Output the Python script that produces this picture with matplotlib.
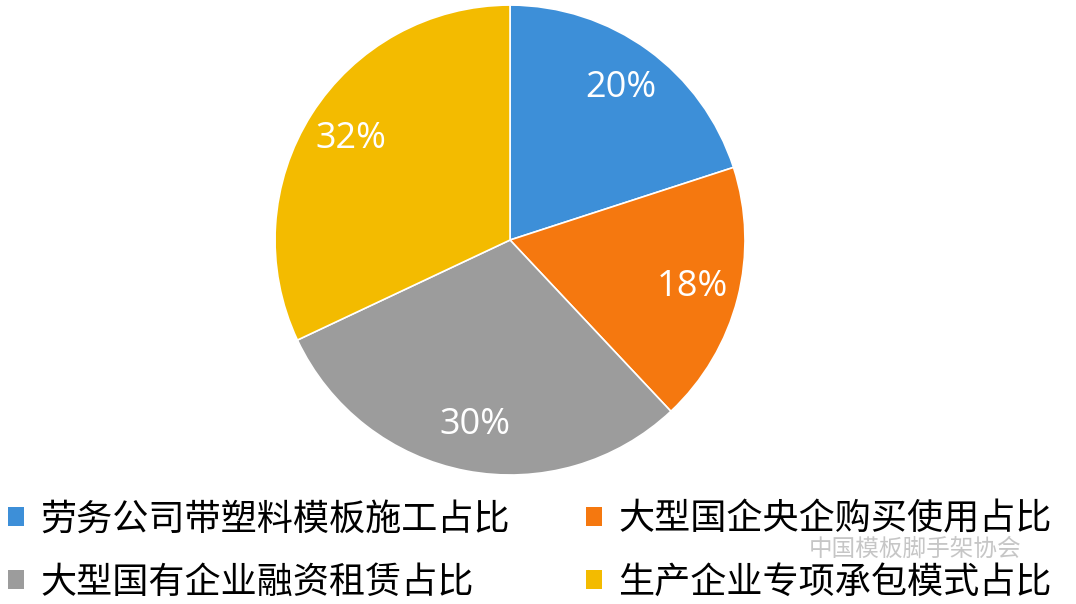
import matplotlib.pyplot as plt
from matplotlib.patches import Patch

plt.rcParams['font.family'] = ['Noto Sans CJK SC', 'DejaVu Sans']

# 数据
labels = ['劳务公司带塑料模板施工占比', '大型国企央企购买使用占比',
          '大型国有企业融资租赁占比', '生产企业专项承包模式占比']
shares = [20, 18, 30, 32]
colors = ['#3d8fd8', '#f5780f', '#9c9c9c', '#f3bb00']

fig = plt.figure(figsize=(10.76, 6.04), dpi=100)
fig.patch.set_facecolor('white')

ax = fig.add_axes([0.2556, 0.2136, 0.4368, 0.778])
wedges, texts, autotexts = ax.pie(
    shares, colors=colors, startangle=90, counterclock=False,
    autopct='%d%%', pctdistance=0.8, radius=1,
    wedgeprops=dict(edgecolor='white', linewidth=1.2),
    textprops=dict(color='white', fontsize=26, family=['Open Sans', 'DejaVu Sans']))
ax.set_aspect('equal')
ax.set_xlim(-1, 1)
ax.set_ylim(-1, 1)

# 图例：左列蓝、灰，右列橙、黄
order = [0, 2, 1, 3]
handles = [Patch(facecolor=colors[i]) for i in order]
fig.legend(handles, [labels[i] for i in order], ncol=2, frameon=False,
           loc='lower left', bbox_to_anchor=(-0.013, -0.03),
           prop=dict(size=26), handlelength=0.45, handleheight=0.45,
           handletextpad=0.45, columnspacing=2.1, labelspacing=0.75,
           borderaxespad=0.2)

# 水印
fig.text(0.752, 0.09, '中国模板脚手架协会', fontsize=17, color='#b8b8b8',
         alpha=0.8, va='center')

fig.savefig('out.png', dpi=100)
